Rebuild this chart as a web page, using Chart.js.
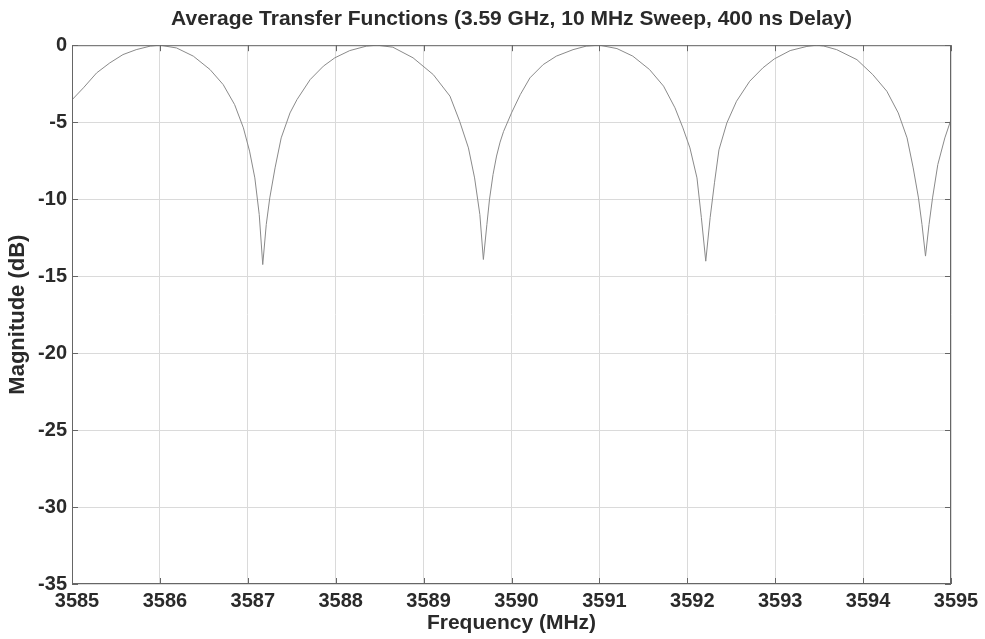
<!DOCTYPE html>
<html>
<head>
<meta charset="utf-8">
<title>Average Transfer Functions</title>
<script src="https://cdn.jsdelivr.net/npm/chart.js@4.4.1/dist/chart.umd.min.js"></script>
<style>
  html, body { margin: 0; padding: 0; background: #fff; }
  #wrap { width: 985px; height: 639px; }
</style>
</head>
<body>
<div id="wrap"><canvas id="tf-chart" width="985" height="639"></canvas></div>
<script>
// values (MHz, dB)
const freqs = [
  3585.00, 3585.13, 3585.28, 3585.43, 3585.58, 3585.73, 3585.89, 3586.00, 3586.19, 3586.38,
  3586.57, 3586.72, 3586.85, 3586.95, 3587.02, 3587.08, 3587.13, 3587.17, 3587.21, 3587.25,
  3587.31, 3587.38, 3587.44, 3587.48, 3587.56, 3587.71, 3587.86, 3587.99, 3588.16, 3588.35,
  3588.47, 3588.65, 3588.88, 3589.11, 3589.30, 3589.41, 3589.51, 3589.58, 3589.64, 3589.68,
  3589.72, 3589.75, 3589.79, 3589.83, 3589.87, 3589.91, 3590.00, 3590.10, 3590.21, 3590.36,
  3590.51, 3590.70, 3590.85, 3591.00, 3591.20, 3591.38, 3591.57, 3591.73, 3591.86, 3591.95,
  3592.03, 3592.11, 3592.16, 3592.21, 3592.26, 3592.31, 3592.36, 3592.45, 3592.56, 3592.71,
  3592.86, 3592.99, 3593.17, 3593.36, 3593.47, 3593.55, 3593.70, 3593.93, 3594.11, 3594.27,
  3594.40, 3594.50, 3594.57, 3594.63, 3594.67, 3594.71, 3594.75, 3594.79, 3594.85, 3594.93,
  3595.00
];
const magnitudes = [
  -3.55, -2.77, -1.80, -1.15, -0.61, -0.29, -0.06, 0.00, -0.18, -0.71,
  -1.58, -2.56, -3.86, -5.37, -6.88, -8.62, -11.0, -14.25, -11.65, -9.92,
  -7.97, -6.02, -5.05, -4.40, -3.53, -2.23, -1.36, -0.82, -0.35, -0.06,
  0.00, -0.13, -0.82, -1.91, -3.31, -4.94, -6.67, -8.62, -11.0, -13.92,
  -11.65, -10.0, -8.4, -7.2, -6.3, -5.6, -4.40, -3.21, -2.12, -1.26,
  -0.71, -0.29, -0.06, 0.00, -0.22, -0.71, -1.58, -2.66, -4.07, -5.37,
  -6.67, -8.62, -11.2, -14.03, -11.2, -8.9, -6.8, -5.05, -3.64, -2.34,
  -1.47, -0.89, -0.35, -0.08, 0.00, -0.05, -0.29, -0.94, -1.91, -2.99,
  -4.40, -6.02, -7.97, -9.92, -11.65, -13.70, -11.65, -9.92, -7.75, -6.02,
  -4.83
];
const xTicks = [3585, 3586, 3587, 3588, 3589, 3590, 3591, 3592, 3593, 3594, 3595];
const yTicks = [-35, -30, -25, -20, -15, -10, -5, 0];

const chartTitle = 'Average Transfer Functions (3.59 GHz, 10 MHz Sweep, 400 ns Delay)';
const xLabel = 'Frequency (MHz)';
const yLabel = 'Magnitude (dB)';

const FONT = "'Liberation Sans', Arial, sans-serif";
const INK = '#2a2a2a';

// box round the plot plus inward tick marks, like the matlab axes
const frameBox = {
  id: 'frameBox',
  afterDatasetsDraw(chart) {
    const { ctx, chartArea: a, scales } = chart;
    ctx.save();
    ctx.strokeStyle = '#666';
    ctx.lineWidth = 1;
    ctx.strokeRect(a.left + 0.5, a.top + 0.5, a.right - a.left - 1, a.bottom - a.top - 1);
    ctx.beginPath();
    xTicks.forEach(v => {
      const x = Math.round(scales.x.getPixelForValue(v)) + 0.5;
      ctx.moveTo(x, a.bottom); ctx.lineTo(x, a.bottom - 6);
      ctx.moveTo(x, a.top); ctx.lineTo(x, a.top + 6);
    });
    yTicks.forEach(v => {
      const y = Math.round(scales.y.getPixelForValue(v)) + 0.5;
      ctx.moveTo(a.left, y); ctx.lineTo(a.left + 6, y);
      ctx.moveTo(a.right, y); ctx.lineTo(a.right - 6, y);
    });
    ctx.stroke();
    ctx.restore();
  }
};

new Chart(document.getElementById('tf-chart'), {
  type: 'line',
  data: {
    datasets: [{
      data: freqs.map((f, i) => ({ x: f, y: magnitudes[i] })),
      borderColor: '#8a8a8a',
      borderWidth: 1,
      pointRadius: 0,
      tension: 0,
      fill: false
    }]
  },
  options: {
    responsive: false,
    animation: false,
    layout: { padding: { left: 0, right: 34, top: 0, bottom: 0 } },
    plugins: {
      legend: { display: false },
      tooltip: { enabled: false },
      title: {
        display: true,
        fullSize: false,
        text: chartTitle,
        color: INK,
        font: { family: FONT, size: 21, weight: 'bold', lineHeight: 1.2 },
        padding: { top: 7, bottom: 13 }
      }
    },
    scales: {
      x: {
        type: 'linear',
        min: 3585,
        max: 3595,
        afterBuildTicks: s => { s.ticks = xTicks.map(v => ({ value: v })); },
        afterFit: s => { s.height = 55; },
        grid: { color: '#dadada', drawTicks: false },
        border: { display: false },
        ticks: {
          color: INK,
          padding: 5,
          labelOffset: 5,
          maxRotation: 0,
          font: { family: FONT, size: 20, weight: 'bold' },
          callback: v => String(v)
        },
        title: {
          display: true,
          text: xLabel,
          color: INK,
          font: { family: FONT, size: 21, weight: 'bold', lineHeight: 1.2 },
          padding: { top: 0, bottom: 3 }
        }
      },
      y: {
        min: -35,
        max: 0,
        afterBuildTicks: s => { s.ticks = yTicks.map(v => ({ value: v })); },
        afterFit: s => { s.width = 72; },
        grid: { color: '#dadada', drawTicks: false },
        border: { display: false },
        ticks: {
          color: INK,
          padding: 5,
          font: { family: FONT, size: 20, weight: 'bold' }
        },
        title: {
          display: true,
          text: yLabel,
          color: INK,
          font: { family: FONT, size: 22, weight: 'bold', lineHeight: 1.2 },
          padding: { top: 5, bottom: 0 }
        }
      }
    }
  },
  plugins: [frameBox]
});
</script>
</body>
</html>
